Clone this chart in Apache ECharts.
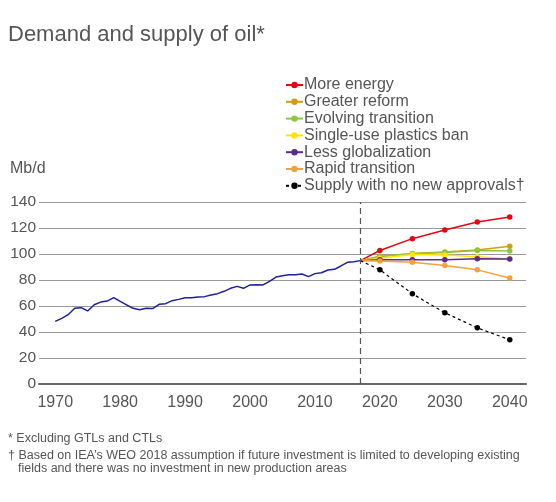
<!DOCTYPE html>
<html><head><meta charset="utf-8">
<script src="https://cdn.jsdelivr.net/npm/echarts@6/dist/echarts.min.js"></script>
<style>html,body{margin:0;padding:0;background:#fff}#c{width:556px;height:502px}</style>
</head><body><div id="c"></div>
<script>
const demandYears = [1970,1971,1972,1973,1974,1975,1976,1977,1978,1979,1980,1981,1982,1983,1984,1985,1986,1987,1988,1989,1990,1991,1992,1993,1994,1995,1996,1997,1998,1999,2000,2001,2002,2003,2004,2005,2006,2007,2008,2009,2010,2011,2012,2013,2014,2015,2016,2017];
const demand = [48.2,50.5,53.3,58.3,58.7,56.2,61,63,63.8,66.4,63.6,60.8,58.2,57.2,58.2,58,61.3,61.8,64.1,65.1,66.4,66.4,67,67.2,68.5,69.5,71.3,73.6,75.1,73.6,76.2,76.4,76.2,79,82.3,83.3,84.1,84.1,84.6,82.6,84.9,85.6,87.7,88.2,90.8,93.6,94.1,94.9];
const scenarioYears = [2017,2020,2025,2030,2035,2040];
const moreEnergy    = [94.9,102.7,111.8,118.4,124.6,128.4];
const greaterReform = [94.9,98.0,100.3,101.6,103.0,105.9];
const evolving      = [94.9,98.2,100.2,101.2,102.6,102.4];
const plasticsBan   = [94.9,96.8,99.7,99.2,97.8,96.2];
const lessGlob      = [94.9,95.6,95.5,95.6,96.4,96.2];
const rapid         = [94.9,94.6,93.7,91.2,87.8,81.6];
const supply        = [94.9,87.8,69.4,54.8,43.2,34.0];
const xTicks = [1970,1980,1990,2000,2010,2020,2030,2040];
const yTicks = [0,20,40,60,80,100,120,140];
const scenarioNames = ['More energy','Greater reform','Evolving transition','Single-use plastics ban','Less globalization','Rapid transition','Supply with no new approvals\u2020'];
const scenarioColors = ['#e30613','#d39c12','#8dc63f','#ffe500','#5b2a8f','#f7a13a','#000000'];
const scenarioData = [moreEnergy,greaterReform,evolving,plasticsBan,lessGlob,rapid,supply];

const font = 'Liberation Sans, Arial, sans-serif';
const chart = echarts.init(document.getElementById('c'));
const series = [{
  name:'Demand', type:'line', data: demandYears.map((y,i)=>[y,demand[i]]),
  showSymbol:false, symbol:'none', lineStyle:{color:'#1f1f9a', width:1.5}, itemStyle:{color:'#1f1f9a'},
  z:3,
  markLine:{silent:true, symbol:'none', label:{show:false},
    lineStyle:{color:'#555', type:[6,4], width:1.2}, data:[{xAxis:2017}]}
}];
scenarioData.forEach((arr,k)=>{
  series.push({
    name: scenarioNames[k], type:'line',
    data: scenarioYears.map((y,i)=> i===0 ? {value:[y,arr[i]], symbol:'none'} : [y,arr[i]]),
    symbol:'circle', symbolSize:5.5, showSymbol:true,
    lineStyle:{color:scenarioColors[k], width: k===6 ? 1.2 : 1.5, type: k===6 ? [3,3] : 'solid'},
    itemStyle:{color:scenarioColors[k]},
    z: 4
  });
});
chart.setOption({
  animation:false,
  title:{text:'Demand and supply of oil*', left:3, top:19,
    textStyle:{fontFamily:font, fontSize:22, fontWeight:'normal', color:'#555'}},
  legend:{data:scenarioNames, orient:'vertical', left:285, top:77, itemGap:0.8, itemWidth:17, itemHeight:8,
    padding:0,
    textStyle:{fontFamily:font, fontSize:16, color:'#555', lineHeight:16, padding:[0,0,0,-4]}},
  grid:{left:39, right:30, top:202, bottom:118, containLabel:false},
  xAxis:{type:'value', min:1967.5, max:2042.5,
    axisLine:{show:true, lineStyle:{color:'#666', width:2.2}},
    axisTick:{show:false},
    splitLine:{show:false},
    axisLabel:{customValues:xTicks, fontFamily:font, fontSize:16, color:'#555', margin:11,
      formatter:v=>String(v)}},
  yAxis:{type:'value', min:0, max:140, interval:20,
    axisLine:{show:false}, axisTick:{show:false},
    splitLine:{show:true, lineStyle:{color:'#999', width:1}},
    axisLabel:{fontFamily:font, fontSize:15.5, color:'#555', margin:3}},
  graphic:[
    {type:'text', left:10, top:161, style:{text:'Mb/d', font:'16px '+font, fill:'#555'}},
    {type:'text', left:8, top:432, style:{text:'* Excluding GTLs and CTLs', font:'12.5px '+font, fill:'#555'}},
    {type:'text', left:8, top:449, style:{text:'\u2020 Based on IEA\u2019s WEO 2018 assumption if future investment is limited to developing existing', font:'12.5px '+font, fill:'#555'}},
    {type:'text', left:18, top:462, style:{text:'fields and there was no investment in new production areas', font:'12.5px '+font, fill:'#555'}}
  ],
  series: series
});
</script></body></html>
